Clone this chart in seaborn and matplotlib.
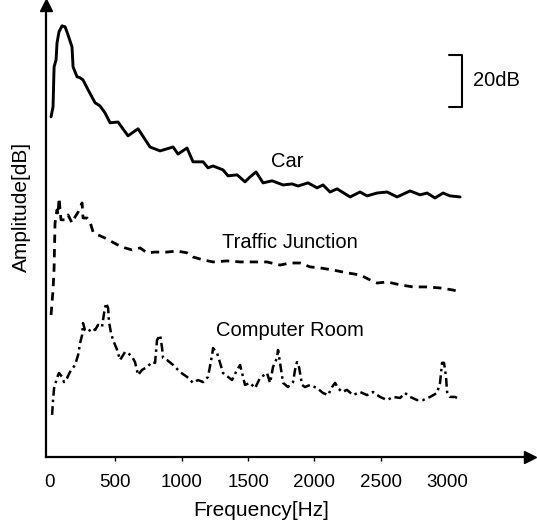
import matplotlib
matplotlib.use("Agg")
import matplotlib.pyplot as plt
import seaborn as sns
import pandas as pd

# Spectra of three noise environments (frequency in Hz, amplitude in dB, curves stacked)
car_hz = [15, 30, 38, 53, 60, 75, 98, 121, 143, 173, 181, 211, 234, 256, 294, 347, 384, 422,
          460, 520, 595, 671, 761, 837, 935, 972, 1040, 1085, 1161, 1198, 1236, 1311, 1349,
          1417, 1477, 1515, 1560, 1613, 1681, 1764, 1831, 1877, 1952, 2020, 2065, 2118, 2171,
          2269, 2344, 2397, 2472, 2548, 2623, 2721, 2796, 2849, 2909, 2970, 3022, 3098]
car_db = [130.8, 134.6, 150.0, 152.7, 159.2, 163.5, 165.8, 165.4, 162.3, 157.7, 150.0, 146.2,
          145.8, 145.0, 141.2, 136.2, 135.0, 132.3, 128.5, 128.8, 123.5, 126.2, 119.2, 117.7,
          119.2, 116.5, 118.8, 113.5, 113.5, 111.2, 111.9, 110.4, 108.1, 108.5, 105.8, 107.7,
          109.6, 105.4, 106.2, 104.6, 105.0, 104.2, 105.4, 103.5, 104.6, 101.9, 103.1, 100.0,
          101.9, 100.4, 101.5, 101.9, 100.0, 102.3, 100.8, 101.5, 99.6, 101.5, 100.4, 100.0]

traffic_hz = [15, 30, 38, 45, 60, 68, 75, 90, 121, 143, 173, 196, 219, 249, 256, 286, 309, 332,
              369, 422, 475, 520, 573, 626, 686, 739, 799, 889, 965, 1040, 1085, 1161, 1236,
              1342, 1440, 1538, 1643, 1741, 1816, 1892, 1967, 2043, 2141, 2246, 2344, 2419,
              2472, 2548, 2646, 2743, 2849, 2947, 3045, 3098]
traffic_db = [54.6, 64.2, 72.7, 90.0, 95.0, 93.1, 99.6, 91.2, 91.2, 93.1, 90.0, 92.3, 94.2, 97.7,
              91.9, 91.9, 90.4, 86.5, 85.4, 84.2, 82.7, 81.5, 80.4, 79.6, 80.4, 78.5, 78.8, 78.8,
              79.2, 78.5, 76.9, 75.8, 75.0, 75.4, 75.0, 75.0, 75.0, 73.8, 74.6, 74.6, 73.1, 72.7,
              71.9, 70.8, 70.0, 68.1, 66.9, 67.3, 66.2, 65.4, 65.4, 65.0, 64.2, 63.5]

computer_hz = [23, 30, 38, 60, 75, 98, 113, 136, 158, 196, 219, 234, 249, 256, 271, 294, 324,
               347, 369, 399, 415, 430, 445, 452, 467, 482, 513, 535, 573, 595, 626, 648, 671,
               701, 739, 776, 799, 814, 837, 852, 859, 889, 935, 987, 1040, 1085, 1123, 1161,
               1198, 1229, 1236, 1266, 1289, 1311, 1349, 1379, 1417, 1440, 1477, 1515, 1553,
               1590, 1643, 1666, 1688, 1718, 1726, 1741, 1764, 1801, 1839, 1854, 1869, 1884,
               1907, 1929, 1967, 2020, 2065, 2103, 2133, 2156, 2178, 2208, 2246, 2291, 2344,
               2397, 2442, 2495, 2548, 2593, 2646, 2683, 2721, 2774, 2819, 2872, 2924, 2947,
               2962, 2977, 2992, 3000, 3022, 3060, 3075]
computer_db = [16.2, 21.9, 26.5, 30.4, 32.3, 30.8, 28.8, 30.4, 32.7, 35.4, 39.2, 43.8, 46.9,
               51.5, 48.8, 48.1, 49.6, 48.8, 50.8, 50.0, 55.4, 59.2, 57.3, 51.9, 47.7, 45.0,
               41.2, 37.3, 40.4, 40.0, 38.5, 36.5, 31.5, 33.5, 34.6, 36.5, 36.2, 45.0, 46.9,
               41.9, 38.1, 37.3, 35.4, 32.7, 30.8, 28.5, 29.6, 28.8, 30.8, 39.2, 41.9, 40.0,
               36.2, 32.3, 30.8, 29.6, 33.5, 35.4, 27.7, 28.5, 26.5, 30.4, 32.3, 28.5, 34.6,
               38.1, 41.2, 36.2, 28.5, 26.9, 28.8, 33.5, 36.5, 34.6, 27.7, 26.9, 27.7, 26.5,
               24.6, 23.8, 26.9, 28.5, 26.5, 25.0, 25.8, 23.8, 25.0, 23.8, 25.0, 23.1, 21.9,
               23.1, 22.7, 24.6, 23.1, 21.9, 21.9, 23.1, 24.6, 28.5, 36.2, 36.2, 30.8, 25.0,
               23.1, 23.1, 22.7]

freq_ticks = [0, 500, 1000, 1500, 2000, 2500, 3000]
scale_db = 20

sns.set_style("white")
plt.rcParams["font.family"] = ["Liberation Sans", "DejaVu Sans"]
plt.rcParams["text.color"] = "black"
plt.rcParams["xtick.color"] = "black"
plt.rcParams["xtick.labelcolor"] = "black"

fig = plt.figure(figsize=(5.37, 5.27), dpi=100)
ax = fig.add_axes([46 / 537, 1 - 457 / 527, 484 / 537, 452 / 527])

car = pd.DataFrame({"hz": car_hz, "db": car_db})
traffic = pd.DataFrame({"hz": traffic_hz, "db": traffic_db})
computer = pd.DataFrame({"hz": computer_hz, "db": computer_db})

sns.lineplot(data=car, x="hz", y="db", ax=ax, color="black", lw=2.1,
             estimator=None, sort=False)
sns.lineplot(data=traffic, x="hz", y="db", ax=ax, color="black", lw=2.0,
             linestyle=(0, (3, 2.2)), estimator=None, sort=False)
sns.lineplot(data=computer, x="hz", y="db", ax=ax, color="black", lw=1.8,
             linestyle=(0, (3.5, 1.6, 1, 1.6)), estimator=None, sort=False)

ax.set_xlim(-23, 3625)
ax.set_ylim(0, 173.8)

# Arrow-style axes
for side in ("top", "right"):
    ax.spines[side].set_visible(False)
for side in ("left", "bottom"):
    ax.spines[side].set_linewidth(1.6)
    ax.spines[side].set_color("black")
ax.plot(1, 0, marker=">", color="black", markersize=9, transform=ax.transAxes, clip_on=False)
ax.plot(0, 1, marker="^", color="black", markersize=9, transform=ax.transAxes, clip_on=False)

ax.set_xticks(freq_ticks)
ax.set_xticklabels([str(t) for t in freq_ticks], fontsize=13.5, color="black")
ax.tick_params(axis="x", direction="out", length=3, width=1, pad=9, bottom=True,
               colors="black")
ticks = ax.xaxis.get_major_ticks()
ticks[0].tick1line.set_visible(False)
ticks[-1].tick1line.set_visible(False)
ax.set_yticks([])
ax.set_xlabel("")
ax.set_ylabel("")
fig.text(261 / 537, 1 - 511 / 527, "Frequency[Hz]", fontsize=15, ha="center", va="center",
         color="black")
fig.text(21 / 537, 1 - 207 / 527, "Amplitude[dB]", rotation=90, fontsize=15,
         ha="center", va="center", color="black")

# Curve labels
ax.text(1794, 113.8, "Car", fontsize=14.5, ha="center", va="center", color="black")
ax.text(1816, 82.3, "Traffic Junction", fontsize=14.5, ha="center", va="center", color="black")
ax.text(1816, 48.5, "Computer Room", fontsize=14.5, ha="center", va="center", color="black")

# 20 dB scale bar
top, bottom = 134.6 + scale_db, 134.6
ax.plot([3015, 3113, 3113, 3015], [top, top, bottom, bottom], color="black", lw=1.5,
        clip_on=False)
ax.text(3196, (top + bottom) / 2, f"{scale_db}dB", fontsize=14.5, ha="left", va="center",
        color="black")

fig.savefig("out.png", dpi=100)
